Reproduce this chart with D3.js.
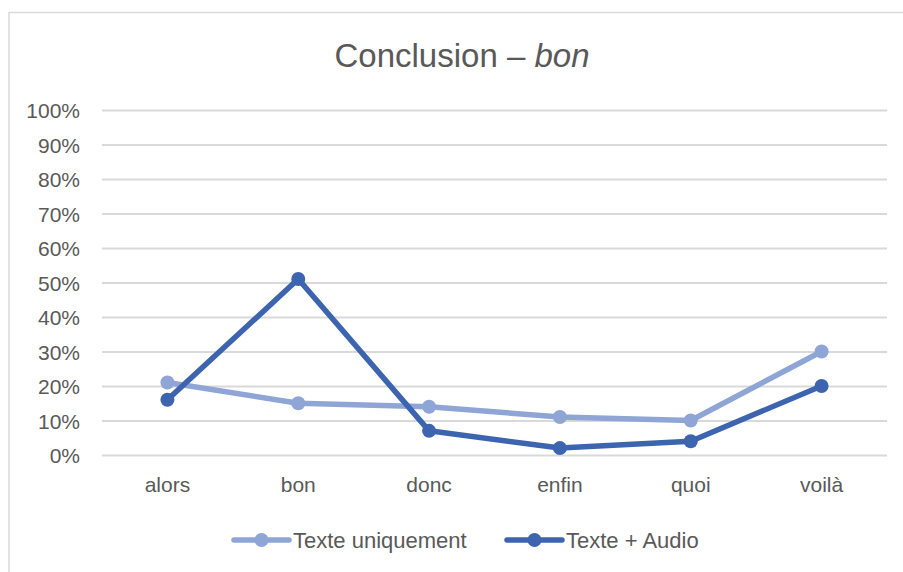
<!DOCTYPE html>
<html><head><meta charset="utf-8">
<script src="https://cdn.jsdelivr.net/npm/d3@7"></script>
<style>html,body{margin:0;padding:0;background:#fff;}svg{display:block;}</style>
</head><body>
<svg id="chart" width="903" height="572"></svg>
<script>
const categories = ["alors", "bon", "donc", "enfin", "quoi", "voilà"];
const texteUniquement = [21, 15, 14, 11, 10, 30];
const texteAudio = [16, 51, 7, 2, 4, 20];
const yTicks = [0, 10, 20, 30, 40, 50, 60, 70, 80, 90, 100];
const seriesNames = ["Texte uniquement", "Texte + Audio"];
const seriesColors = ["#8FA5D6", "#3D64AE"];

const svg = d3.select("#chart");
const font = "'Liberation Sans', Arial, sans-serif";
const textColor = "#595959";

// chart border
svg.append("rect").attr("x", 9).attr("y", 12.5).attr("width", 910).attr("height", 600)
  .attr("fill", "none").attr("stroke", "#d9d9d9").attr("stroke-width", 1.5);

const x0 = 102, x1 = 887;
const x = d3.scaleBand().domain(categories).range([x0, x1]).paddingInner(0).paddingOuter(0);
const y = d3.scaleLinear().domain([0, 100]).range([455, 110]);

// title
const title = svg.append("text").attr("x", 462).attr("y", 67).attr("text-anchor", "middle")
  .attr("font-family", font).attr("font-size", 33).attr("fill", textColor);
title.append("tspan").text("Conclusion – ");
title.append("tspan").attr("font-style", "italic").text("bon");

// gridlines + y axis
const yAxis = d3.axisLeft(y).tickValues(yTicks).tickFormat(d => d + "%").tickSize(-(x1 - x0)).tickPadding(22);
const gy = svg.append("g").attr("transform", `translate(${x0},0)`).call(yAxis);
gy.select(".domain").remove();
gy.selectAll(".tick line").attr("stroke", "#d9d9d9").attr("stroke-width", 2);
gy.selectAll(".tick text").attr("font-family", font).attr("font-size", 21).attr("fill", textColor).attr("dy", "0.36em");

// x axis labels
const xAxis = d3.axisBottom(x).tickSize(0).tickPadding(22);
const gx = svg.append("g").attr("transform", `translate(0,${y(0)})`).call(xAxis);
gx.select(".domain").remove();
gx.selectAll(".tick text").attr("font-family", font).attr("font-size", 21).attr("fill", textColor).attr("dy", "0.71em");

const cx = c => x(c) + x.bandwidth() / 2;
const line = d3.line().x((d, i) => cx(categories[i])).y(d => y(d));

[texteUniquement, texteAudio].forEach((vals, si) => {
  const g = svg.append("g");
  g.append("path").datum(vals).attr("d", line).attr("fill", "none")
    .attr("stroke", seriesColors[si]).attr("stroke-width", 5.5).attr("stroke-linejoin", "round").attr("stroke-linecap", "round");
  g.selectAll("circle").data(vals).join("circle")
    .attr("cx", (d, i) => cx(categories[i])).attr("cy", d => y(d)).attr("r", 7)
    .attr("fill", seriesColors[si]);
});

// legend
const legendItems = [
  {name: seriesNames[0], color: seriesColors[0], lx: 234, tx: 293},
  {name: seriesNames[1], color: seriesColors[1], lx: 507, tx: 566}
];
const ly = 540;
legendItems.forEach(it => {
  svg.append("line").attr("x1", it.lx).attr("x2", it.lx + 55).attr("y1", ly).attr("y2", ly)
    .attr("stroke", it.color).attr("stroke-width", 5.5).attr("stroke-linecap", "round");
  svg.append("circle").attr("cx", it.lx + 27.5).attr("cy", ly).attr("r", 7).attr("fill", it.color);
  svg.append("text").attr("x", it.tx).attr("y", ly).attr("dy", "0.36em")
    .attr("font-family", font).attr("font-size", 22).attr("fill", textColor).text(it.name);
});
</script>
</body></html>
